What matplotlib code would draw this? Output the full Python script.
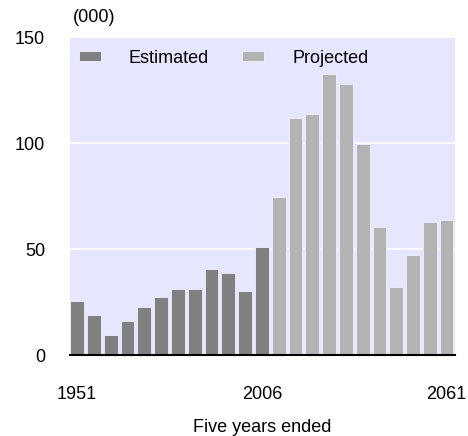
import matplotlib
matplotlib.use("Agg")
import matplotlib.pyplot as plt
import numpy as np

plt.rcParams['font.family'] = ['Liberation Sans', 'DejaVu Sans']

# five-year periods ending in these years
years = list(range(1951, 2062, 5))
estimated = [25.6, 19.0, 9.4, 16.2, 22.8, 27.5, 31.3, 31.3, 40.6, 38.8, 30.3, 51.1]
projected = [74.7, 111.6, 113.5, 132.4, 127.7, 99.4, 60.5, 32.2, 47.3, 62.6, 63.5]
tick_years = [1951, 2006, 2061]

est_color = '#808080'
proj_color = '#b3b3b3'
bg_color = '#e6e6ff'
fs = 13

fig = plt.figure(figsize=(4.68, 4.36), dpi=100)
ax = fig.add_axes([70 / 468, 1 - 355 / 436, 385 / 468, 318 / 436])
ax.set_facecolor(bg_color)

x_est = np.arange(len(estimated))
x_proj = np.arange(len(estimated), len(estimated) + len(projected))

ax.bar(x_est, estimated, width=0.82, color=est_color, edgecolor='#f0f0ff',
       linewidth=0.6, label='Estimated', zorder=2)
ax.bar(x_proj, projected, width=0.82, color=proj_color, edgecolor='#f0f0ff',
       linewidth=0.6, label='Projected', zorder=2)

ax.set_ylim(0, 150)
ax.set_xlim(-0.42, len(years) - 0.5)
ax.set_yticks([0, 50, 100, 150])
ax.yaxis.grid(True, color='white', linewidth=1.2, zorder=1)
ax.set_axisbelow(True)

tick_pos = [years.index(y) for y in tick_years]
ax.set_xticks(tick_pos)
ax.set_xticklabels([str(y) for y in tick_years])

for s in ['top', 'right', 'left']:
    ax.spines[s].set_visible(False)
ax.spines['bottom'].set_color('black')
ax.spines['bottom'].set_linewidth(1.5)
ax.tick_params(axis='both', length=0, labelsize=fs)
ax.tick_params(axis='y', pad=18)
ax.tick_params(axis='x', pad=22)

ax.set_xlabel('Five years ended', fontsize=fs, labelpad=12)

ax.legend(loc='upper left', ncol=2, frameon=False, fontsize=fs,
          handlelength=1.22, handleheight=0.5, handletextpad=1.55,
          columnspacing=1.85, bbox_to_anchor=(-0.01, 1.0), borderaxespad=0.3)

fig.text(73 / 468, 1 - 17.5 / 436, '(000)', fontsize=fs, va='center', ha='left')

fig.savefig('out.png', dpi=100)
